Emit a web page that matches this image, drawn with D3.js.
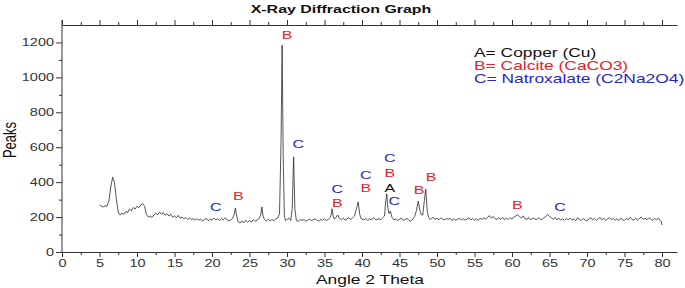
<!DOCTYPE html>
<html>
<head>
<meta charset="utf-8">
<script src="https://cdn.jsdelivr.net/npm/d3@7"></script>
<style>
  body { margin: 0; background: #fff; }
  text { font-family: "Liberation Sans", Arial, sans-serif; }
</style>
</head>
<body>
<div id="chart"></div>
<script>
var width = 685,
    height = 288;

// scan: [angle 2theta, counts]
var scan = [
  [5.0,270],[5.25,262],[5.5,258],[5.75,264],
  [6.0,262],[6.25,292],[6.5,372],[6.75,428],[7.0,398],[7.25,300],[7.5,228],[7.75,212],
  [8.0,222],[8.25,216],[8.5,232],[8.75,226],
  [9.0,246],[9.25,236],[9.5,255],[9.75,246],
  [10.0,262],[10.25,254],[10.5,270],[10.75,276],
  [11.0,262],[11.25,216],[11.5,200],[11.75,206],
  [12.0,198],[12.25,212],[12.5,222],[12.75,214],
  [13.0,228],[13.25,216],[13.5,226],[13.75,210],
  [14.0,220],[14.25,206],[14.5,216],[14.75,200],
  [15.0,206],[15.25,196],[15.5,210],[15.75,194],
  [16.0,200],[16.25,190],[16.5,198],[16.75,186],
  [17.0,195],[17.25,184],[17.5,192],[17.75,182],
  [18.0,190],[18.25,182],[18.5,188],[18.75,178],
  [19.0,186],[19.25,192],[19.5,180],[19.75,188],
  [20.0,182],[20.25,194],[20.5,184],[20.75,190],
  [21.0,180],[21.25,192],[21.5,184],[21.75,196],
  [22.0,186],[22.25,178],[22.5,184],[22.75,192],
  [23.0,222],[23.12,252],[23.25,214],[23.5,172],[23.75,166],
  [24.0,178],[24.25,168],[24.5,182],[24.75,170],
  [25.0,180],[25.25,172],[25.5,186],[25.75,176],
  [26.0,182],[26.25,190],[26.5,214],[26.65,258],[26.8,206],
  [27.0,186],[27.25,176],[27.5,188],[27.75,178],
  [28.0,186],[28.25,180],[28.5,190],[28.75,194],
  [29.0,218],[29.2,620],[29.35,1185],[29.5,520],[29.65,205],[29.8,180],
  [30.0,186],[30.25,194],[30.5,180],[30.7,250],[30.88,545],[31.05,245],[31.25,180],[31.5,176],[31.75,186],
  [32.0,180],[32.25,186],[32.5,176],[32.75,182],
  [33.0,188],[33.25,180],[33.5,184],[33.75,190],
  [34.0,182],[34.25,176],[34.5,186],[34.75,182],
  [35.0,190],[35.25,180],[35.5,186],[35.75,198],
  [35.9,216],[36.02,248],[36.15,206],[36.3,188],[36.5,196],[36.75,212],
  [37.0,192],[37.25,184],[37.5,194],[37.75,182],
  [38.0,190],[38.25,196],[38.5,186],[38.75,196],
  [39.0,206],[39.3,256],[39.5,287],[39.7,214],[39.9,190],
  [40.25,184],[40.5,192],[40.75,180],
  [41.0,190],[41.25,184],[41.5,196],[41.75,188],
  [42.0,184],[42.25,192],[42.5,184],[42.75,196],
  [43.0,206],[43.15,286],[43.3,333],[43.45,250],[43.6,220],[43.78,234],[44.0,198],
  [44.25,184],[44.5,190],[44.75,180],
  [45.0,188],[45.25,194],[45.5,180],[45.75,186],
  [46.0,192],[46.25,182],[46.5,176],[46.75,188],
  [47.0,202],[47.25,236],[47.5,292],[47.7,240],[47.9,214],[48.1,212],[48.3,290],[48.5,361],[48.7,232],[48.9,196],
  [49.1,186],[49.3,194],[49.5,198],[49.75,186],
  [50.0,194],[50.25,184],[50.5,196],[50.75,188],
  [51.0,184],[51.25,192],[51.5,186],[51.75,194],
  [52.0,180],[52.25,190],[52.5,182],[52.75,188],
  [53.0,192],[53.25,184],[53.5,190],[53.75,182],
  [54.0,188],[54.25,196],[54.5,184],[54.75,192],
  [55.0,182],[55.25,190],[55.5,180],[55.75,194],
  [56.0,186],[56.25,196],[56.5,188],[56.75,200],
  [57.0,208],[57.25,194],[57.5,204],[57.75,190],
  [58.0,186],[58.25,196],[58.5,188],[58.75,198],
  [59.0,184],[59.25,194],[59.5,186],[59.75,196],
  [60.0,188],[60.25,200],[60.5,206],[60.75,214],
  [61.0,202],[61.25,196],[61.5,206],[61.75,190],
  [62.0,188],[62.25,198],[62.5,184],[62.75,194],
  [63.0,190],[63.25,184],[63.5,196],[63.75,188],
  [64.0,186],[64.25,196],[64.5,204],[64.75,214],
  [65.0,206],[65.25,194],[65.5,188],[65.75,198],
  [66.0,184],[66.25,194],[66.5,182],[66.75,190],
  [67.0,180],[67.25,192],[67.5,184],[67.75,194],
  [68.0,182],[68.25,190],[68.5,180],[68.75,196],
  [69.0,186],[69.25,182],[69.5,192],[69.75,184],
  [70.0,178],[70.25,190],[70.5,196],[70.75,184],
  [71.0,192],[71.25,182],[71.5,190],[71.75,198],
  [72.0,184],[72.25,194],[72.5,180],[72.75,190],
  [73.0,196],[73.25,186],[73.5,192],[73.75,182],
  [74.0,190],[74.25,180],[74.5,194],[74.75,184],
  [75.0,182],[75.25,192],[75.5,184],[75.75,198],
  [76.0,188],[76.25,182],[76.5,194],[76.75,184],
  [77.0,192],[77.25,200],[77.5,186],[77.75,194],
  [78.0,184],[78.25,196],[78.5,188],[78.75,182],
  [79.0,192],[79.25,184],[79.5,194],[79.75,180],[79.9,176],[80.0,155]
];

// peak letters, placed at (angle, counts)
var peakLabels = [
  {t: "B", x: 30.0, y: 1243},
  {t: "C", x: 31.5, y: 618},
  {t: "C", x: 20.5, y: 258},
  {t: "B", x: 23.5, y: 321},
  {t: "C", x: 36.7, y: 361},
  {t: "B", x: 36.7, y: 281},
  {t: "C", x: 40.5, y: 438},
  {t: "B", x: 40.5, y: 364},
  {t: "C", x: 43.7, y: 538},
  {t: "B", x: 43.7, y: 452},
  {t: "A", x: 43.7, y: 366},
  {t: "C", x: 44.3, y: 292},
  {t: "B", x: 47.6, y: 355},
  {t: "B", x: 49.2, y: 429},
  {t: "B", x: 60.7, y: 269},
  {t: "C", x: 66.4, y: 258}
];

var legendItems = [
  {t: "A", label: "A= Copper (Cu)"},
  {t: "B", label: "B= Calcite (CaCO3)"},
  {t: "C", label: "C= Natroxalate (C2Na2O4)"}
];

var xMajor = d3.range(0, 81, 5),
    xMinor = d3.range(2.5, 80, 5),
    yMajor = d3.range(0, 1201, 200),
    yMinor = d3.range(100, 1300, 200);

var phaseColor = {A: "#111111", B: "#e3222a", C: "#2626c9"};

// the picture is horizontally stretched, so glyphs are too
var SX = 1.45;

var svg = d3.select("#chart").append("svg")
    .attr("width", width)
    .attr("height", height);

var x = d3.scaleLinear().domain([0, 82]).range([62, 677]);
var y = d3.scaleLinear().domain([0, 1300]).range([252, 25]);

function stretch(sel) {
    sel.each(function() {
        var t = d3.select(this);
        var tx = +t.attr("x") || 0, ty = +t.attr("y") || 0;
        t.attr("x", null).attr("y", null)
         .attr("transform", "translate(" + tx + "," + ty + ") scale(" + SX + ",1)");
    });
}

// axes
var axisColor = "#333";

var gx = svg.append("g").attr("transform", "translate(0,252)")
    .call(d3.axisBottom(x).tickValues(xMajor).tickSize(5).tickSizeOuter(0).tickPadding(3));
svg.append("g").attr("transform", "translate(0,252)")
    .call(d3.axisBottom(x).tickValues(xMinor).tickSize(3).tickFormat(""))
    .select(".domain").remove();

var gtop = svg.append("g").attr("transform", "translate(0,25)")
    .call(d3.axisTop(x).tickValues(xMajor).tickSize(5).tickSizeOuter(0).tickFormat(""));
svg.append("g").attr("transform", "translate(0,25)")
    .call(d3.axisTop(x).tickValues(xMinor).tickSize(3).tickFormat(""))
    .select(".domain").remove();

var gy = svg.append("g").attr("transform", "translate(62,0)")
    .call(d3.axisLeft(y).tickValues(yMajor).tickFormat(d3.format("d"))
        .tickSize(6).tickSizeOuter(0).tickPadding(3));
gy.select(".domain").remove();
svg.append("g").attr("transform", "translate(62,0)")
    .call(d3.axisLeft(y).tickValues(yMinor).tickSize(3).tickFormat(""))
    .select(".domain").remove();

svg.append("line")
    .attr("x1", 62).attr("x2", 62)
    .attr("y1", 20).attr("y2", 252)
    .attr("stroke", axisColor).attr("stroke-width", 1);

svg.selectAll(".domain, .tick line").attr("stroke", axisColor);
svg.selectAll(".tick text")
    .attr("fill", "#333")
    .style("font-size", "10px")
    .style("font-family", "'Liberation Sans', Arial, sans-serif");
gy.selectAll(".tick text").attr("x", -8);
stretch(svg.selectAll(".tick text"));

// scan line
var line = d3.line()
    .x(function(d) { return x(d[0]); })
    .y(function(d) { return y(d[1]); });

svg.append("path")
    .datum(scan)
    .attr("d", line)
    .attr("fill", "none")
    .attr("stroke", "#2a2a2a")
    .attr("stroke-width", 0.8);

// peak letters
svg.selectAll(".peak")
    .data(peakLabels)
    .enter().append("text")
    .attr("class", "peak")
    .attr("x", function(d) { return x(d.x); })
    .attr("y", function(d) { return y(d.y); })
    .attr("dy", "0.36em")
    .attr("text-anchor", "middle")
    .attr("fill", function(d) { return phaseColor[d.t]; })
    .style("font-size", "11px")
    .text(function(d) { return d.t; })
    .call(stretch);

// legend
svg.selectAll(".legend")
    .data(legendItems)
    .enter().append("text")
    .attr("class", "legend")
    .attr("x", 474)
    .attr("y", function(d, i) { return 53 + i * 13; })
    .attr("dy", "0.36em")
    .attr("fill", function(d) { return phaseColor[d.t]; })
    .style("font-size", "12px")
    .text(function(d) { return d.label; })
    .call(stretch);

// titles
svg.append("text")
    .attr("x", 341).attr("y", 13)
    .attr("text-anchor", "middle")
    .style("font-size", "11px")
    .style("font-weight", "bold")
    .attr("fill", "#111")
    .text("X-Ray Diffraction Graph")
    .call(stretch);

svg.append("text")
    .attr("x", 370).attr("y", 284)
    .attr("text-anchor", "middle")
    .style("font-size", "12px")
    .attr("fill", "#111")
    .text("Angle 2 Theta")
    .call(stretch);

svg.append("text")
    .attr("transform", "translate(16,140) scale(" + SX + ",1) rotate(-90)")
    .attr("text-anchor", "middle")
    .style("font-size", "13px")
    .attr("fill", "#111")
    .text("Peaks");
</script>
</body>
</html>
